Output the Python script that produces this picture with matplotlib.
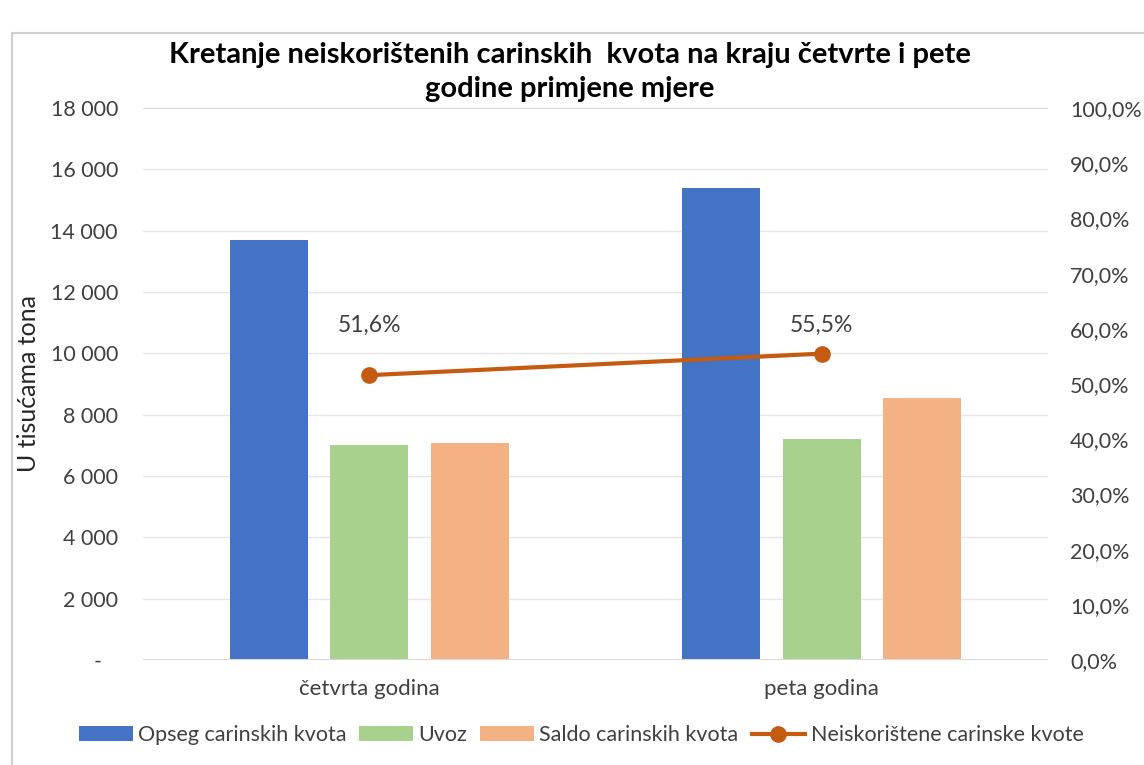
import matplotlib.pyplot as plt
from matplotlib.patches import Rectangle
from matplotlib.ticker import FuncFormatter, MultipleLocator
import numpy as np

plt.rcParams["font.family"] = ["Lato", "DejaVu Sans"]

# Data
categories = ["četvrta godina", "peta godina"]
opseg = [13700, 15400]
uvoz = [7000, 7200]
saldo = [7080, 8550]
neiskoristene = [51.6, 55.5]
series_names = [
    "Opseg carinskih kvota",
    "Uvoz",
    "Saldo carinskih kvota",
    "Neiskorištene carinske kvote",
]

BLUE = "#4472C4"
GREEN = "#A9D18E"
SALMON = "#F4B183"
ORANGE = "#C55A11"
TEXT = "#404040"
GRID = "#e6e6e6"

fig = plt.figure(figsize=(11.44, 7.65), dpi=100)
fig.patches.append(
    Rectangle((12 / 1144, -0.1), 1.2, 1 - 33 / 765 + 0.1, transform=fig.transFigure,
              fill=False, edgecolor="#d0d0d0", linewidth=1.5, zorder=0)
)

# plot area in pixels: x 143..1048, y 108..660
ax = fig.add_axes([143 / 1144, 1 - 660 / 765, (1048 - 143) / 1144, (660 - 108) / 765])
ax2 = ax.twinx()

x = np.arange(len(categories))
w = 0.172
off = 0.222
b1 = ax.bar(x - off, opseg, w, color=BLUE, label=series_names[0], zorder=2)
b2 = ax.bar(x, uvoz, w, color=GREEN, label=series_names[1], zorder=2)
b3 = ax.bar(x + off, saldo, w, color=SALMON, label=series_names[2], zorder=2)

ax.set_xlim(-0.5, 1.5)
ax.set_ylim(0, 18000)
ax.yaxis.set_major_locator(MultipleLocator(2000))
ax.yaxis.set_major_formatter(
    FuncFormatter(lambda v, p: "-   " if v == 0 else f"{int(v):,}".replace(",", " "))
)
ax.grid(axis="y", color=GRID, linewidth=1.0, zorder=0)
ax.set_axisbelow(True)
ax.axhline(18000, color="#d9d9d9", linewidth=1.2, zorder=1)
ax.axhline(0, color="#d9d9d9", linewidth=1.5, zorder=3)

for s in ["top", "right", "left", "bottom"]:
    ax.spines[s].set_visible(False)
    ax2.spines[s].set_visible(False)

ax.set_xticks(x)
ax.set_xticklabels(categories, fontsize=16, color=TEXT)
ax.tick_params(axis="x", length=0, pad=14)
ax.tick_params(axis="y", length=0, pad=18, labelsize=15.5, labelcolor=TEXT)
ax.set_ylabel("U tisućama tona", fontsize=18, color="#262626")
ax.yaxis.set_label_coords(-0.114, 0.5)

ln, = ax2.plot(x, neiskoristene, color=ORANGE, linewidth=3, marker="o",
               markersize=11, label=series_names[3], zorder=4)
ax2.set_ylim(0, 100)
ax2.yaxis.set_major_locator(MultipleLocator(10))
ax2.yaxis.set_major_formatter(FuncFormatter(lambda v, p: f"{v:.1f}%".replace(".", ",")))
ax2.tick_params(axis="y", length=0, pad=16, labelsize=15.5, labelcolor=TEXT)

# data labels sit at the same height above both points
label_y = max(neiskoristene) + 5.2
for xi, v in zip(x, neiskoristene):
    ax2.text(xi, label_y, f"{v:.1f}%".replace(".", ","), ha="center", va="center",
             fontsize=16.5, color=TEXT)

fig.text(0.498, 1 - 72 / 765,
         "Kretanje neiskorištenih carinskih  kvota na kraju četvrte i pete\ngodine primjene mjere",
         ha="center", va="center", fontsize=21, fontweight="bold", color="#000000",
         linespacing=1.4)

fig.legend([b1, b2, b3, ln], series_names, loc="center", ncol=4,
           bbox_to_anchor=(0.508, 1 - 735 / 765), frameon=False, fontsize=15.5,
           handlelength=2.5, handleheight=0.65, columnspacing=0.6, handletextpad=0.25,
           labelcolor=TEXT)

fig.savefig("out.png", dpi=100)
